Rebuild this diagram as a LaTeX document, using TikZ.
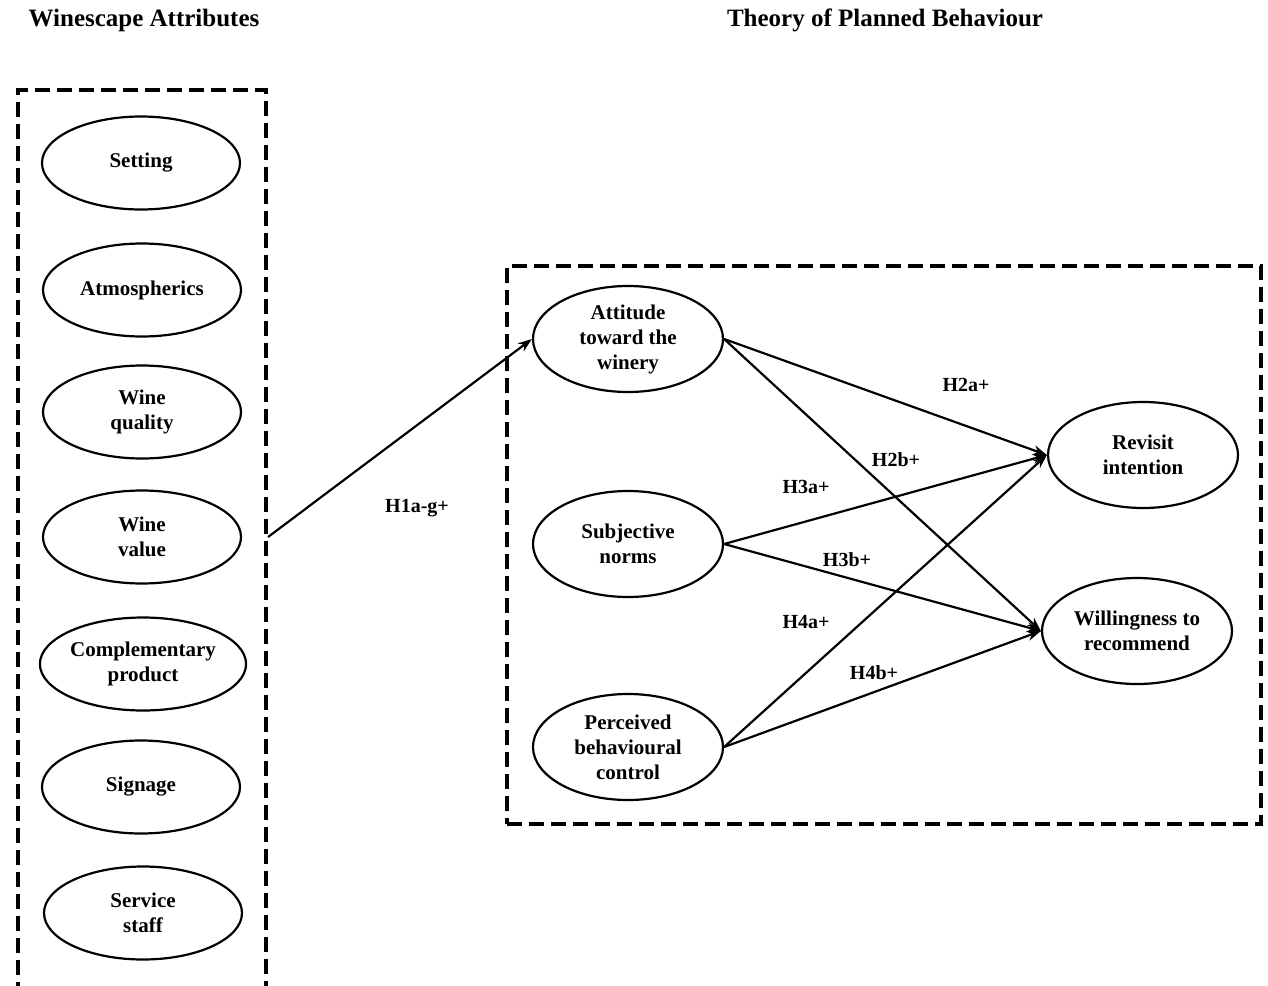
\documentclass[tikz,border=0pt]{standalone}
\usepackage{fontspec}
\setmainfont{Liberation Serif}
\usetikzlibrary{shapes.geometric,arrows.meta}
\tikzset{
  construct/.style={draw, ellipse, line width=2.2pt, inner sep=0pt,
    minimum width=198pt, minimum height=93pt, align=center,
    font=\bfseries\fontsize{21}{25}\selectfont},
  tpb/.style={construct, minimum width=190pt, minimum height=106pt},
  hyp/.style={font=\bfseries\fontsize{20}{23}\selectfont},
  heading/.style={font=\bfseries\fontsize{25}{28}\selectfont},
  group/.style={draw, line width=4pt, dash pattern=on 15pt off 7pt, inner sep=0pt},
  link/.style={-{Stealth[length=14pt,width=10pt]}, line width=2.2pt}
}
\begin{document}
\begin{tikzpicture}[x=1pt,y=-1pt]
            \useasboundingbox (0,0) rectangle (1268,985);

            % headings
            \node[heading] (wtitle) at (144,20) {Winescape Attributes};
            \node[heading] (ttitle) at (885,20) {Theory of Planned Behaviour};

            % winescape attributes
            \node[group, minimum width=248pt, minimum height=900pt] (wsbox) at (142,540) {};
            \node[construct] (set) at (141,163) {Setting};
            \node[construct] (atm) at (142,290) {Atmospherics};
            \node[construct] (qua) at (142,412) {Wine\\quality};
            \node[construct] (val) at (142,537) {Wine\\value};
            \node[construct] (com) at (143,664) {Complementary\\product};
            \node[construct] (sig) at (141,787) {Signage};
            \node[construct] (sta) at (143,913) {Service\\staff};

            % theory of planned behaviour
            \node[group, minimum width=754pt, minimum height=558pt] (tpbbox) at (884,545) {};
            \node[tpb] (att) at (628,339) {Attitude\\toward the\\winery};
            \node[tpb] (sub) at (628,544) {Subjective\\norms};
            \node[tpb] (pbc) at (628,747) {Perceived\\behavioural\\control};
            \node[tpb] (rev) at (1143,455) {Revisit\\intention};
            \node[tpb] (wtr) at (1137,631) {Willingness to\\recommend};

            \draw[link] (wsbox.east |- val.east) -- (att.west);
            \draw[link] (att.east) -- (rev.west); \draw[link] (att.east) -- (wtr.west);
            \draw[link] (sub.east) -- (rev.west); \draw[link] (sub.east) -- (wtr.west);
            \draw[link] (pbc.east) -- (rev.west); \draw[link] (pbc.east) -- (wtr.west);

            % hypotheses
            \node[hyp] (h1) at (417,508) {H1a-g+};
            \node[hyp] (h2a) at (966,385) {H2a+};
            \node[hyp] (h2b) at (896,460) {H2b+};
            \node[hyp] (h3a) at (806,487) {H3a+};
            \node[hyp] (h3b) at (847,560) {H3b+};
            \node[hyp] (h4a) at (806,622) {H4a+};
            \node[hyp] (h4b) at (874,673) {H4b+};
        \end{tikzpicture}
\end{document}
